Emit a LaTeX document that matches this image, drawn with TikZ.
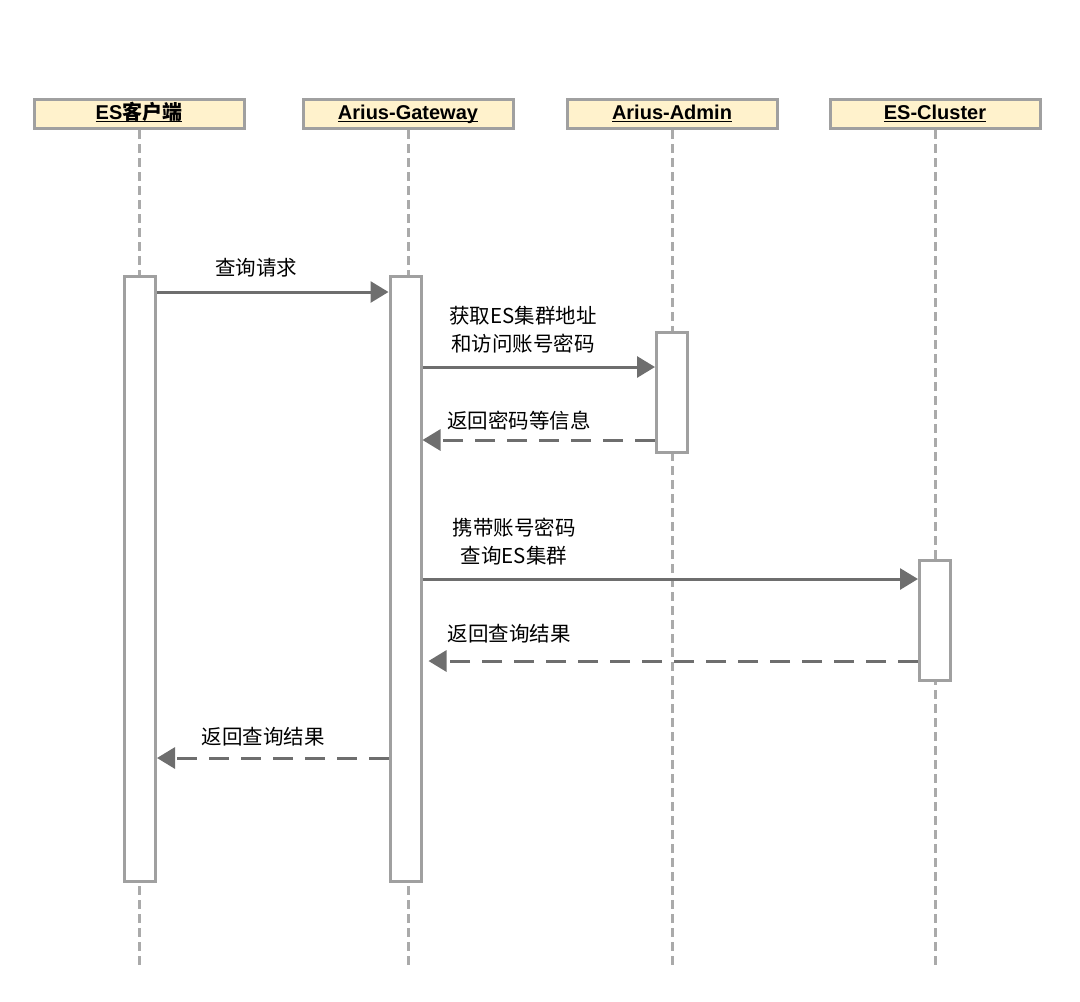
\documentclass[tikz,border=0pt]{standalone}
\usepackage{fontspec}
\setmainfont{Liberation Sans}
\newfontfamily\cjk{Noto Sans CJK SC}
\usetikzlibrary{
    positioning,
    arrows.meta
}
\definecolor{hdrfill}{HTML}{FFF2CC}
\definecolor{boxgray}{HTML}{A0A0A0}
\definecolor{lifegray}{HTML}{AAAAAA}
\definecolor{msggray}{HTML}{6E6E6E}
\newcommand{\hdrtext}[1]{\underline{\raisebox{0pt}[\height][0pt]{#1}}}
\tikzset{
    >={Triangle[length=18pt,width=21pt]},
    header/.style={
        draw=boxgray,
        line width=3pt,
        fill=hdrfill,
        minimum width=210pt,
        minimum height=29pt,
        inner sep=0pt,
        text height=15pt,
        text depth=4pt,
        font=\bfseries\fontsize{20}{24}\selectfont
    },
    actbar/.style={
        draw=boxgray,
        line width=3pt,
        fill=white,
        minimum width=31pt,
        inner sep=0pt
    },
    lifeline/.style={
        draw=lifegray,
        line width=3pt,
        dash pattern=on 9pt off 5pt
    },
    msg/.style={
        ->,
        draw=msggray,
        line width=3pt
    },
    reply/.style={
        msg,
        dash pattern=on 20pt off 12pt
    },
    msglabel/.style={
        font=\cjk\fontsize{20.5}{28}\selectfont,
        align=center,
        inner sep=0pt
    }
}

\begin{document}
\begin{tikzpicture}[x=1pt, y=-1pt]

    \useasboundingbox (0,0) rectangle (1080,1002);

    % Teilnehmer
    \node[header] (client)  at (139,114) {\hdrtext{ES{\cjk\bfseries 客户端}}};
    \node[header] (gateway) at (408,114) {\hdrtext{Arius-Gateway}};
    \node[header] (admin)   at (672,114) {\hdrtext{Arius-Admin}};
    \node[header] (cluster) at (935,114) {\hdrtext{ES-Cluster}};

    \coordinate (bottom) at (0,965);

    % Lebenslinien
    \foreach \p in {client, gateway, admin, cluster}
        \draw[lifeline] (\p.south) -- (\p |- bottom);

    % Aktivierungen
    \node[actbar, minimum height=605pt] (clientbar)  at (140,579)   {};
    \node[actbar, minimum height=605pt] (gatewaybar) at (405.5,579) {};
    \node[actbar, minimum height=120pt] (adminbar)   at (672,392.5) {};
    \node[actbar, minimum height=120pt] (clusterbar) at (935,620.5) {};

    % Nachrichten
    \coordinate (m1) at (0,292);
    \coordinate (m2) at (0,367);
    \coordinate (m3) at (0,440);
    \coordinate (m4) at (0,579);
    \coordinate (m5) at (0,661);
    \coordinate (m6) at (0,758);

    \draw[msg]   (clientbar.east |- m1)  -- (gatewaybar.west |- m1);
    \draw[msg]   (gatewaybar.east |- m2) -- (adminbar.west |- m2);
    \draw[reply] (adminbar.west |- m3)   -- (gatewaybar.east |- m3);
    \draw[msg]   (gatewaybar.east |- m4) -- (clusterbar.west |- m4);
    \draw[reply] (clusterbar.west |- m5) -- ([xshift=6pt]gatewaybar.east |- m5);
    \draw[reply] (gatewaybar.west |- m6) -- (clientbar.east |- m6);

    % Beschriftungen
    \node[msglabel] (l1) at (256,268) {查询请求};
    \node[msglabel] (l2) at (523,330) {获取ES集群地址\\和访问账号密码};
    \node[msglabel] (l3) at (519,421) {返回密码等信息};
    \node[msglabel] (l4) at (514,542) {携带账号密码\\查询ES集群};
    \node[msglabel] (l5) at (509,634) {返回查询结果};
    \node[msglabel] (l6) at (263,737) {返回查询结果};

\end{tikzpicture}
\end{document}
